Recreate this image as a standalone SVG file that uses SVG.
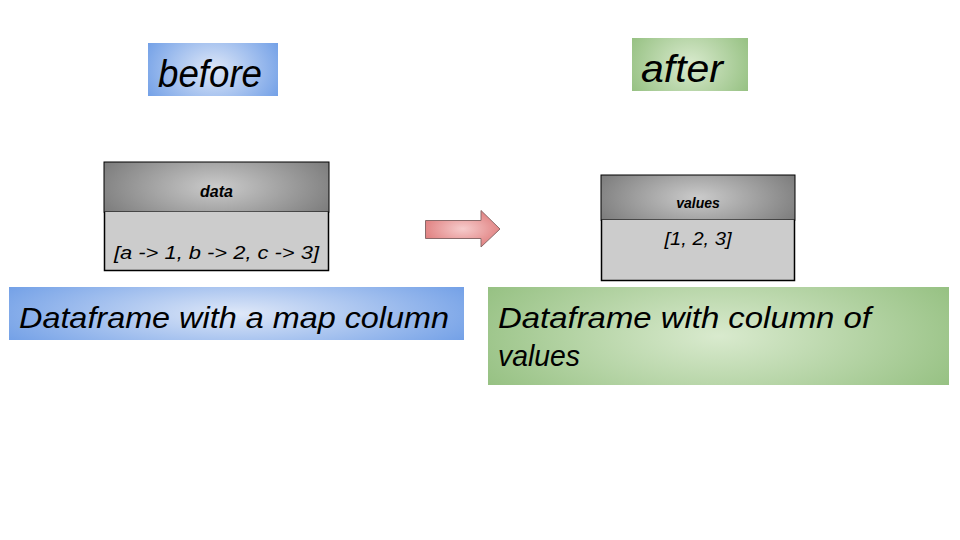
<svg xmlns="http://www.w3.org/2000/svg" width="960" height="540" viewBox="0 0 960 540">
<defs>
<radialGradient id="gBlue" cx="0.5" cy="0.5" r="0.6" gradientTransform="translate(0.5 0.5) scale(1 1.8) translate(-0.5 -0.5)">
<stop offset="0" stop-color="#dfe8f8"/>
<stop offset="1" stop-color="#6e9de6"/>
</radialGradient>
<radialGradient id="gGreen" cx="0.5" cy="0.5" r="0.6" gradientTransform="translate(0.5 0.5) scale(1 1.8) translate(-0.5 -0.5)">
<stop offset="0" stop-color="#d9eace"/>
<stop offset="1" stop-color="#93bf7f"/>
</radialGradient>
<radialGradient id="gGray" cx="0.5" cy="0.5" r="0.6" gradientTransform="translate(0.5 0.5) scale(1 1.8) translate(-0.5 -0.5)">
<stop offset="0" stop-color="#cbcbcb"/>
<stop offset="1" stop-color="#777777"/>
</radialGradient>
<radialGradient id="gRed" cx="0.5" cy="0.5" r="0.6">
<stop offset="0" stop-color="#f6cccc"/>
<stop offset="1" stop-color="#de7878"/>
</radialGradient>
</defs>
<style>
.t{font-family:"Liberation Sans",Arial,sans-serif;font-style:italic;fill:#000}
.hdr{stroke:#000;stroke-width:1}
.body{fill:#cccccc;stroke:none}
.edge{fill:none;stroke:#000;stroke-width:1.5}
</style>
<rect width="960" height="540" fill="#fff"/>
<g id="before-label">
<rect x="148" y="43" width="130" height="53" fill="url(#gBlue)"/>
<text class="t" x="158" y="87" font-size="38" textLength="104" lengthAdjust="spacingAndGlyphs">before</text>
</g>
<g id="after-label">
<rect x="632" y="38" width="116" height="53" fill="url(#gGreen)"/>
<text class="t" x="641" y="82" font-size="38" textLength="82" lengthAdjust="spacingAndGlyphs">after</text>
</g>
<g id="data-table">
<rect x="104" y="162" width="225" height="50" fill="url(#gGray)" class="hdr"/>
<rect x="104" y="212" width="225" height="58" class="body"/>
<path class="edge" d="M104.5 212 V270.5 H328.5 V212"/>
<text class="t" x="216.5" y="197" font-size="16" font-weight="bold" text-anchor="middle">data</text>
<text class="t" x="216.5" y="259" font-size="18" text-anchor="middle" textLength="205" lengthAdjust="spacingAndGlyphs">[a -&gt; 1, b -&gt; 2, c -&gt; 3]</text>
</g>
<g id="values-table">
<rect x="601" y="175" width="194" height="45" fill="url(#gGray)" class="hdr"/>
<rect x="601" y="220" width="194" height="60" class="body"/>
<path class="edge" d="M601.5 220 V280.5 H794.5 V220"/>
<text class="t" x="698" y="208" font-size="14" font-weight="bold" text-anchor="middle">values</text>
<text class="t" x="698" y="245" font-size="18" text-anchor="middle" textLength="67" lengthAdjust="spacingAndGlyphs">[1, 2, 3]</text>
</g>
<g id="connectors">
<path d="M425.5 220.5 H481 V210.5 L500 229 L481 247 V238.5 H425.5 Z" fill="url(#gRed)" stroke="#8a6a6a" stroke-width="1"/>
</g>
<g id="caption-before">
<rect x="9" y="287" width="455" height="53" fill="url(#gBlue)"/>
<text class="t" x="19" y="328" font-size="30" textLength="430" lengthAdjust="spacingAndGlyphs">Dataframe with a map column</text>
</g>
<g id="caption-after">
<rect x="488" y="287" width="461" height="98" fill="url(#gGreen)"/>
<text class="t" x="498" y="328" font-size="30" textLength="373" lengthAdjust="spacingAndGlyphs">Dataframe with column of</text>
<text class="t" x="498" y="366" font-size="30" textLength="82" lengthAdjust="spacingAndGlyphs">values</text>
</g>
</svg>
